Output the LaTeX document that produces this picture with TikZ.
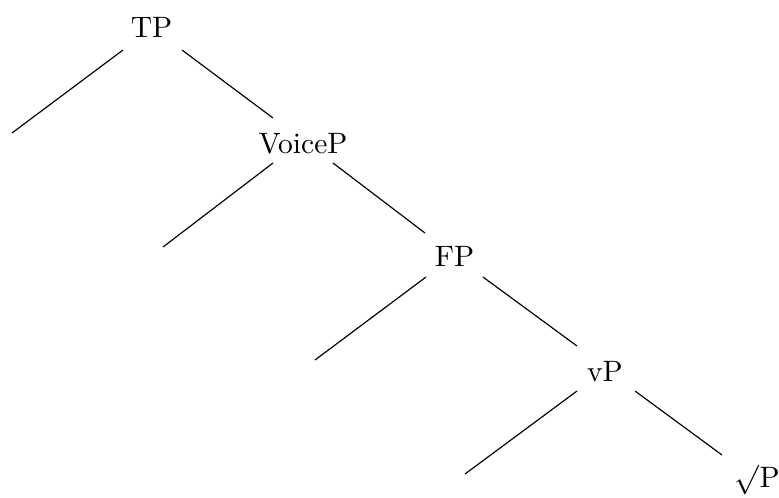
\documentclass[tikz,border=0pt]{standalone}
\usetikzlibrary{calc}
\begin{document}
\begin{tikzpicture}[x=0.339pt,y=-0.339pt,
  lab/.style={anchor=base,inner sep=0pt,outer sep=0pt},
  branch/.style={line width=0.4pt}]
\useasboundingbox (0,0) rectangle (779,497);
\node[lab] (TP) at (151.5,37) {TP};
\node[lab] (VoiceP) at (303,153) {VoiceP};
\node[lab] (FP) at (454.5,266) {FP};
\node[lab] (vP) at (605,381) {vP};
\node[lab] (rootP) at (757.3,487) {$\surd$P};
\coordinate (L1) at (12,133);
\coordinate (L2) at (163,247);
\coordinate (L3) at (315,360);
\coordinate (L4) at (465,474);
% TP
\draw[branch] ($(TP.base)+(-28.5,13)$) -- (L1);
\draw[branch] ($(TP.base)+(30.5,13)$) -- ($(VoiceP.base)+(-30,-35)$);
% VoiceP
\draw[branch] ($(VoiceP.base)+(-30,10)$) -- (L2);
\draw[branch] ($(VoiceP.base)+(30,10)$) -- ($(FP.base)+(-29.5,-33)$);
% FP
\draw[branch] ($(FP.base)+(-28.5,11)$) -- (L3);
\draw[branch] ($(FP.base)+(28.5,11)$) -- ($(vP.base)+(-28,-35)$);
% vP
\draw[branch] ($(vP.base)+(-28,10)$) -- (L4);
\draw[branch] ($(vP.base)+(30,10)$) -- ($(rootP.base)+(-35.3,-32)$);
\end{tikzpicture}
\end{document}
